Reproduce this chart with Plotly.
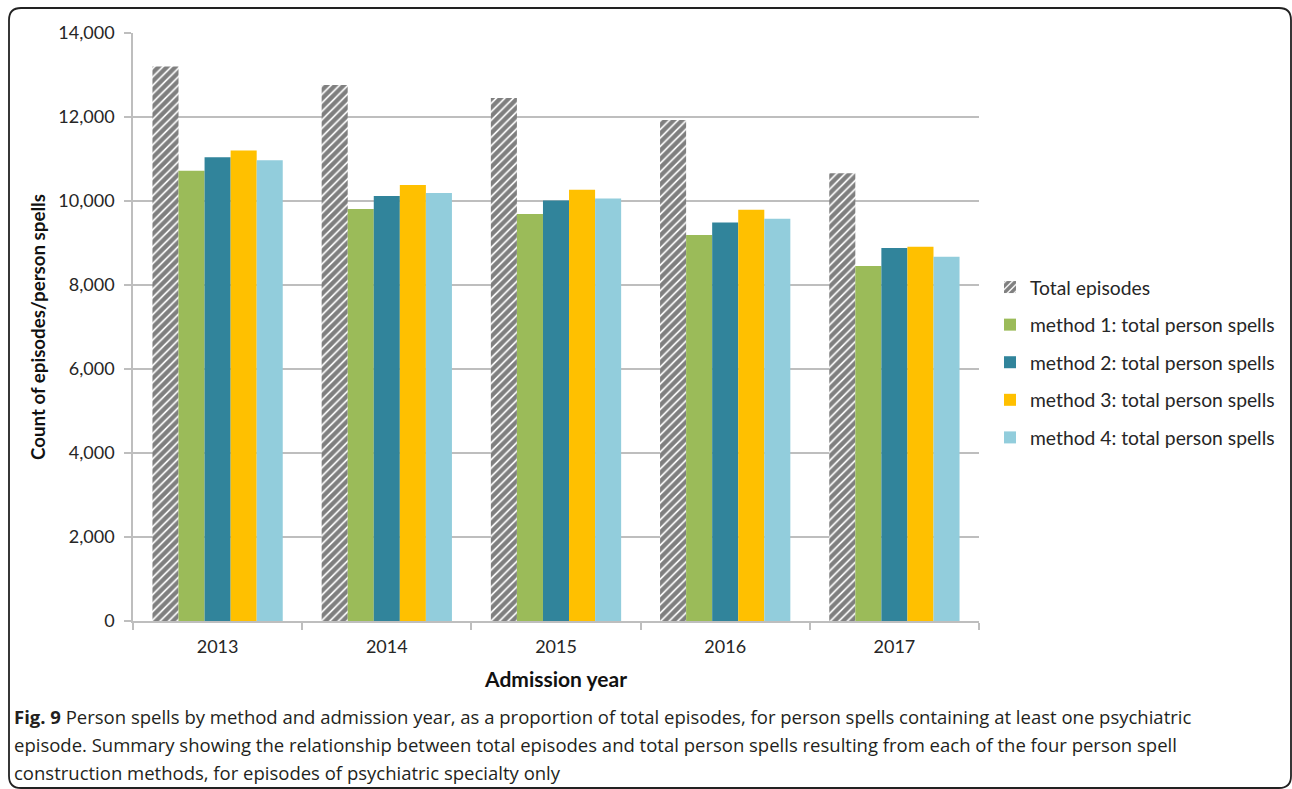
import plotly.graph_objects as go

years = ["2013", "2014", "2015", "2016", "2017"]
total_episodes = [13200, 12760, 12450, 11930, 10660]
method1 = [10720, 9810, 9690, 9190, 8450]
method2 = [11040, 10120, 10010, 9490, 8880]
method3 = [11200, 10380, 10270, 9790, 8910]
method4 = [10970, 10190, 10060, 9580, 8670]

series_names = ["Total episodes",
                "method 1: total person spells",
                "method 2: total person spells",
                "method 3: total person spells",
                "method 4: total person spells"]
colors = ["#FFFFFF", "#9BBB59", "#31849B", "#FFC000", "#92CDDC"]
y_ticks = [0, 2000, 4000, 6000, 8000, 10000, 12000, 14000]

W, H = 1292, 789
L, R, T, B = 133, 313, 33, 168
PW, PH = W - L - R, H - T - B

def px(x):
    return (x - L) / PW

def py(y):
    return (H - B - y) / PH

CHART_FONT = "Lato, Carlito, Calibri, sans-serif"
CAP_FONT = "Open Sans, sans-serif"

fig = go.Figure()
fig.add_trace(go.Bar(
    x=years, y=total_episodes, name=series_names[0], legendgroup="g0",
    marker=dict(color="white", line=dict(width=0),
                pattern=dict(shape="/", fgcolor="#000000", bgcolor="white",
                             size=6, solidity=0.72)),
))
for i, vals in enumerate([method1, method2, method3, method4], start=1):
    fig.add_trace(go.Bar(
        x=years, y=vals, name=series_names[i], legendgroup=f"g{i}",
        marker=dict(color=colors[i], line=dict(width=0)),
    ))

fig.update_layout(
    width=W, height=H,
    margin=dict(l=L, r=R, t=T, b=B, pad=0),
    paper_bgcolor="white", plot_bgcolor="white",
    barmode="group", bargap=0.23, bargroupgap=0,
    font=dict(family=CHART_FONT, size=17, color="#333333"),
    showlegend=True,
    legend=dict(x=px(990), y=py(268), xanchor="left", yanchor="top",
                font=dict(family=CHART_FONT, size=19.3, color="#262626"),
                traceorder="grouped", tracegroupgap=9.5,
                bgcolor="rgba(0,0,0,0)"),
    xaxis=dict(
        type="category", showgrid=False, showline=True, linecolor="#BEBEBE",
        linewidth=1.5, ticks="outside", tickson="boundaries", ticklen=7,
        tickcolor="#BEBEBE", tickwidth=1.5, ticklabelstandoff=9,
        tickfont=dict(family=CHART_FONT, size=18, color="#262626"),
        title=dict(text="<b>Admission year</b>", standoff=16,
                   font=dict(family=CHART_FONT, size=21, color="#111111")),
    ),
    yaxis=dict(
        range=[0, 14000], tickvals=y_ticks, tickformat=",",
        showgrid=True, gridcolor="#BEBEBE", gridwidth=1.5,
        showline=True, linecolor="#BEBEBE", linewidth=1.5,
        ticks="outside", ticklen=7, tickcolor="#BEBEBE", tickwidth=1.5,
        ticklabelstandoff=6, zeroline=False,
        tickfont=dict(family=CHART_FONT, size=18, color="#262626"),
        title=dict(text="<b>Count of episodes/person spells</b>", standoff=8,
                   font=dict(family=CHART_FONT, size=18.7, color="#111111")),
    ),
)

# rounded border around the figure
r = 12
x0, x1, y0, y1 = 9, 1291, 8, 788
path = (f"M {px(x0)},{py(y0 + r)} Q {px(x0)},{py(y0)} {px(x0 + r)},{py(y0)} "
        f"L {px(x1 - r)},{py(y0)} Q {px(x1)},{py(y0)} {px(x1)},{py(y0 + r)} "
        f"L {px(x1)},{py(y1 - r)} Q {px(x1)},{py(y1)} {px(x1 - r)},{py(y1)} "
        f"L {px(x0 + r)},{py(y1)} Q {px(x0)},{py(y1)} {px(x0)},{py(y1 - r)} Z")
fig.add_shape(type="path", path=path, xref="paper", yref="paper",
              line=dict(color="#222222", width=1.8), fillcolor="rgba(0,0,0,0)",
              layer="above")

caption_lines = [
    "<b>Fig. 9</b> Person spells by method and admission year, as a proportion of total episodes, for person spells containing at least one psychiatric",
    "episode. Summary showing the relationship between total episodes and total person spells resulting from each of the four person spell",
    "construction methods, for episodes of psychiatric specialty only",
]
for line, yy in zip(caption_lines, [716, 744, 772]):
    fig.add_annotation(text=line, xref="paper", yref="paper", x=px(12), y=py(yy),
                       xanchor="left", yanchor="middle", showarrow=False,
                       font=dict(family=CAP_FONT, size=18.5, color="#231F20"))

fig.write_html("out.html")
